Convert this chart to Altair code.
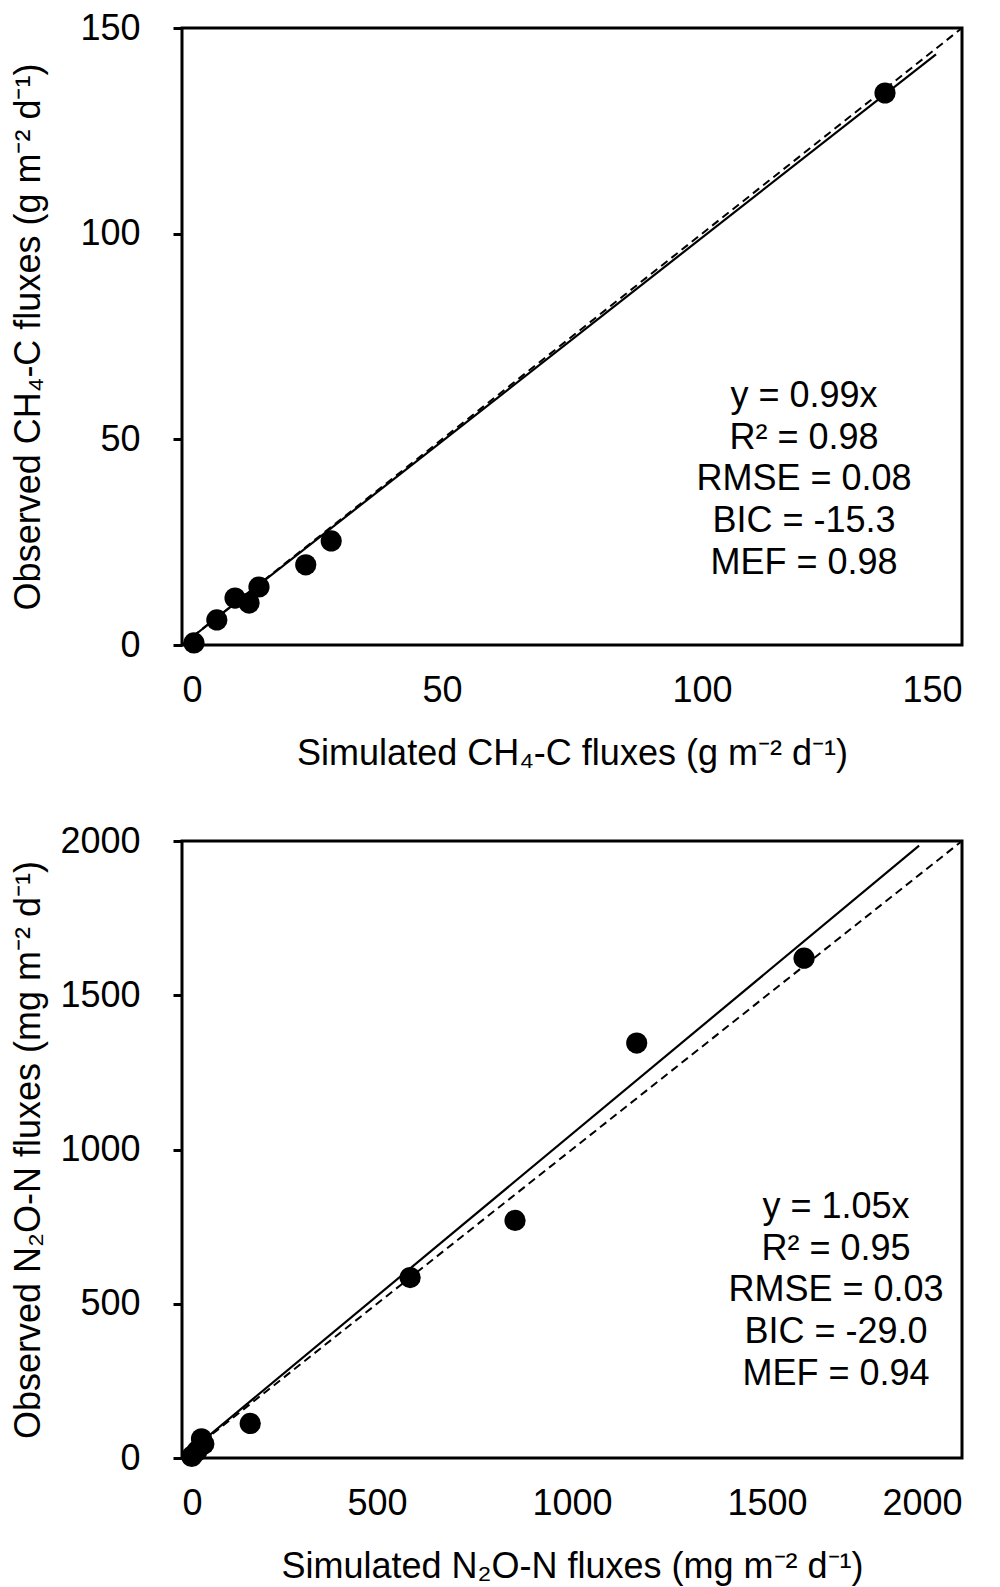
import altair as alt
import pandas as pd

# ---- data ----
ch4_sim = [2.3, 6.7, 10.2, 12.9, 14.8, 23.8, 28.7, 135.2]
ch4_obs = [0.5, 6.1, 11.4, 10.2, 14.1, 19.5, 25.3, 134.2]
ch4_fit_x = [0, 145]
ch4_fit_y = [0, 143.6]
ch4_one_x = [0, 150]
ch4_one_y = [0, 150]
ch4_stats = ["y = 0.99x", "R² = 0.98", "RMSE = 0.08", "BIC = -15.3", "MEF = 0.98"]

n2o_sim = [25, 38, 50, 56, 175, 585, 854, 1166, 1595]
n2o_obs = [5, 22, 62, 45, 112, 585, 770, 1345, 1620]
n2o_fit_x = [0, 1890]
n2o_fit_y = [0, 1985]
n2o_one_x = [0, 2000]
n2o_one_y = [0, 2000]
n2o_stats = ["y = 1.05x", "R² = 0.95", "RMSE = 0.03", "BIC = -29.0", "MEF = 0.94"]

ch4_ticks = [0, 50, 100, 150]
n2o_ticks = [0, 500, 1000, 1500, 2000]

FONT = "Liberation Sans"
FS = 36
W, H = 780, 617


def panel(sim, obs, fx, fy, ox, oy, stats, ticks, dmax, xtitle, ytitle, txt_x, txt_y):
    pts = pd.DataFrame({"sim": sim, "obs": obs})
    fit = pd.DataFrame({"sim": fx, "obs": fy})
    one = pd.DataFrame({"sim": ox, "obs": oy})
    xs = alt.Scale(domain=[0, dmax], nice=False, zero=True)
    ys = alt.Scale(domain=[0, dmax], nice=False, zero=True)
    xax = alt.Axis(values=ticks, title=xtitle, grid=False, ticks=False, domain=False,
                   labelPadding=45, labelBaseline="middle", titleY=108,
                   titleBaseline="middle", format="d")
    yax = alt.Axis(values=ticks, title=ytitle, grid=False, ticks=True, tickSize=9,
                   tickWidth=3, tickColor="black", domain=False, labelPadding=33,
                   titleX=-154, titleBaseline="middle", format="d")
    x = alt.X("sim:Q", scale=xs, axis=xax)
    y = alt.Y("obs:Q", scale=ys, axis=yax)
    l_one = alt.Chart(one).mark_line(color="black", strokeWidth=2, strokeDash=[8, 5]).encode(x=x, y=y)
    l_fit = alt.Chart(fit).mark_line(color="black", strokeWidth=2.2).encode(x=x, y=y)
    p = alt.Chart(pts).mark_circle(color="black", opacity=1, size=450).encode(x=x, y=y)
    t = alt.Chart(pd.DataFrame({"s": ["\n".join(stats)]})).mark_text(
        font=FONT, fontSize=FS, color="black", align="center", baseline="middle",
        lineBreak="\n", lineHeight=41.7
    ).encode(text="s:N", x=alt.value(txt_x), y=alt.value(txt_y))
    return alt.layer(l_one, l_fit, p, t).properties(width=W, height=H)


top = panel(ch4_sim, ch4_obs, ch4_fit_x, ch4_fit_y, ch4_one_x, ch4_one_y, ch4_stats,
            ch4_ticks, 150,
            "Simulated CH₄-C fluxes (g m⁻² d⁻¹)", "Observed CH₄-C fluxes (g m⁻² d⁻¹)",
            622, 368)
bot = panel(n2o_sim, n2o_obs, n2o_fit_x, n2o_fit_y, n2o_one_x, n2o_one_y, n2o_stats,
            n2o_ticks, 2000,
            "Simulated N₂O-N fluxes (mg m⁻² d⁻¹)", "Observed N₂O-N fluxes (mg m⁻² d⁻¹)",
            654, 366)

chart = alt.vconcat(top, bot, spacing=48).properties(
    padding={"left": 0, "top": 0, "right": 5, "bottom": 0},
    background="white"
).configure_view(stroke="black", strokeWidth=3).configure_axis(
    labelFont=FONT, labelFontSize=FS, labelColor="black",
    titleFont=FONT, titleFontSize=FS, titleFontWeight="normal", titleColor="black"
)

chart.save("out.html", embed_options={"renderer": "svg", "actions": False})
